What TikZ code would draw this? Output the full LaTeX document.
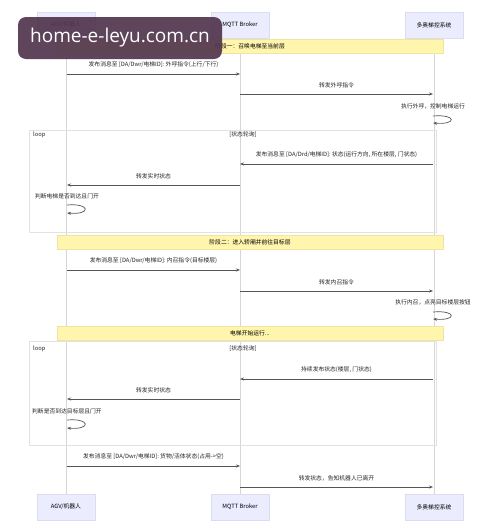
\documentclass[tikz,border=0pt]{standalone}
\usepackage{fontspec}
\setmainfont{Noto Sans CJK SC}
\newfontfamily\wmfont{Open Sans}
\usetikzlibrary{arrows.meta}
\definecolor{actorfill}{HTML}{ECECFF}
\definecolor{actorline}{HTML}{DCDCF0}
\definecolor{notefill}{HTML}{FFF5AD}
\definecolor{noteline}{HTML}{EEE6A0}
\definecolor{lifeline}{HTML}{D6D6D6}
\definecolor{msgline}{HTML}{555555}
\definecolor{loopline}{HTML}{E2E2E2}
\definecolor{wmfill}{HTML}{52374F}
\begin{document}
\begin{tikzpicture}[x=1pt,y=-1pt,font=\fontsize{5.8}{7}\selectfont,
 actor/.style={draw=actorline, fill=actorfill, minimum width=58pt, minimum height=26pt, inner sep=0pt},
 notebox/.style={draw=noteline, fill=notefill, minimum width=386pt, minimum height=14pt, inner sep=0pt},
 msg/.style={draw=msgline, line width=0.7pt, -{Stealth[length=4pt,width=3pt]}},
 lbl/.style={inner sep=0pt, text=black!85},
 life/.style={draw=lifeline, line width=0.8pt},
 loopbox/.style={draw=loopline, line width=0.8pt}]
\useasboundingbox[fill=white] (0,0) rectangle (500,531);
% actors
\node[actor] (at) at (66,25) {AGV/机器人};
\node[actor] (mt) at (240,25) {MQTT Broker};
\node[actor] (dt) at (434,25) {多奥梯控系统};
\node[actor] (ab) at (66,507) {AGV/机器人};
\node[actor] (mb) at (240,507) {MQTT Broker};
\node[actor] (db) at (434,507) {多奥梯控系统};
% lifelines
\draw[life] (at.south) -- (ab.north);
\draw[life] (mt.south) -- (mb.north);
\draw[life] (dt.south) -- (db.north);
% loop boxes
\draw[loopbox] (29,130) rectangle (436,232);
\node[lbl, anchor=west] (l1) at (33,135) {loop};
\node[lbl] (l1c) at (243,135) {[状态轮询]};
\draw[loopbox] (29,341) rectangle (436,445);
\node[lbl, anchor=west] (l2) at (33,349) {loop};
\node[lbl] (l2c) at (243,349) {[状态轮询]};
% notes
\node[notebox] (n1) at (250,46) {阶段一：召唤电梯至当前层};
\node[notebox] (n2) at (250,242.5) {阶段二：进入轿厢并前往目标层};
\node[notebox] (n3) at (250,333.5) {电梯开始运行...};
% coordinates on lifelines
\foreach \y in {74,164,185,270,379,399,466} {
  \coordinate (A\y) at (67,\y); \coordinate (M\y) at (240,\y); }
\foreach \y in {94,164,291,379,487} {
  \coordinate (M\y) at (240,\y); \coordinate (D\y) at (433,\y); }
\coordinate (Ds1) at (433,116); \coordinate (De1) at (433,123);
\coordinate (As1) at (67,205); \coordinate (Ae1) at (67,213);
\coordinate (Ds2) at (433,312); \coordinate (De2) at (433,319);
\coordinate (As2) at (67,420); \coordinate (Ae2) at (67,428);
% messages
\node[lbl] (t1) at (153.5,65) {发布消息至 [DA/Dwr/电梯ID]: 外呼指令(上行/下行)};
\draw[msg] (A74) -- (M74);
\node[lbl] (t2) at (336.5,85) {转发外呼指令};
\draw[msg] (M94) -- (D94);
\node[lbl] (t3) at (433,106) {执行外呼，控制电梯运行};
\draw[msg] (Ds1) .. controls +(24,-2) and +(24,2) .. (De1);
\node[lbl] (t4) at (336.5,155) {发布消息至 [DA/Drd/电梯ID]: 状态(运行方向, 所在楼层, 门状态)};
\draw[msg] (D164) -- (M164);
\node[lbl] (t5) at (153.5,176) {转发实时状态};
\draw[msg] (M185) -- (A185);
\node[lbl] (t6) at (67,196) {判断电梯是否到达且门开};
\draw[msg] (As1) .. controls +(24,-2) and +(24,2) .. (Ae1);
\node[lbl] (t7) at (153.5,261) {发布消息至 [DA/Dwr/电梯ID]: 内召指令(目标楼层)};
\draw[msg] (A270) -- (M270);
\node[lbl] (t8) at (336.5,282) {转发内召指令};
\draw[msg] (M291) -- (D291);
\node[lbl] (t9) at (433,302) {执行内召，点亮目标楼层按钮};
\draw[msg] (Ds2) .. controls +(24,-2) and +(24,2) .. (De2);
\node[lbl] (t10) at (336.5,370) {持续发布状态(楼层, 门状态)};
\draw[msg] (D379) -- (M379);
\node[lbl] (t11) at (153.5,390) {转发实时状态};
\draw[msg] (M399) -- (A399);
\node[lbl] (t12) at (67,411) {判断是否到达目标层且门开};
\draw[msg] (As2) .. controls +(24,-2) and +(24,2) .. (Ae2);
\node[lbl] (t13) at (153.5,457) {发布消息至 [DA/Dwr/电梯ID]: 货物/活体状态(占用->空)};
\draw[msg] (A466) -- (M466);
\node[lbl] (t14) at (336.5,478) {转发状态，告知机器人已离开};
\draw[msg] (M487) -- (D487);
% watermark
\node[fill=wmfill, fill opacity=0.93, text opacity=1, rounded corners=8pt, minimum width=204pt, minimum height=42pt, inner sep=0pt, text=white, font=\wmfont\fontsize{19}{19}\selectfont] (wm) at (120,38) {home-e-leyu.com.cn};
\end{tikzpicture}
\end{document}
